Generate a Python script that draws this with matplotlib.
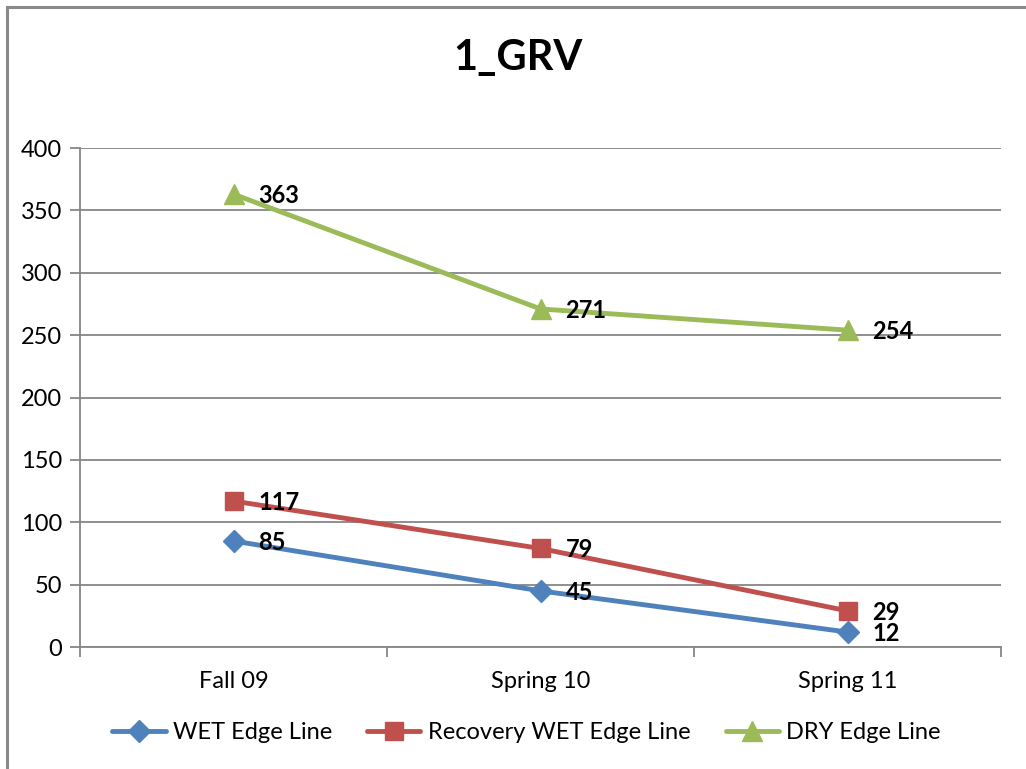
import matplotlib
matplotlib.use("Agg")
from matplotlib import pyplot as plt
from matplotlib.lines import Line2D

# Chart data
categories = ["Fall 09", "Spring 10", "Spring 11"]
wet_edge = [85, 45, 12]
recovery_wet_edge = [117, 79, 29]
dry_edge = [363, 271, 254]
series_names = ["WET Edge Line", "Recovery WET Edge Line", "DRY Edge Line"]
y_ticks = [0, 50, 100, 150, 200, 250, 300, 350, 400]

# Excel 2007 default palette
colors = ["#4F81BD", "#C0504D", "#9BBB59"]
markers = ["D", "s", "^"]
marker_sizes = [11, 13, 14]
grid_color = "#868686"

plt.rcParams["font.family"] = ["Lato", "DejaVu Sans"]

fig = plt.figure(figsize=(10.26, 7.69), dpi=100)
ax = fig.add_axes([0.078, 0.1586, 0.8977, 0.6489])

# Chart area border (only top and left visible in the reference)
fig.add_artist(Line2D([0.0068, 0.0068], [0, 0.991], color="#8a8a8a", lw=2.2,
                      transform=fig.transFigure))
fig.add_artist(Line2D([0.0068, 1.0], [0.991, 0.991], color="#8a8a8a", lw=2.2,
                      transform=fig.transFigure))

x = [0.5, 1.5, 2.5]
all_series = [wet_edge, recovery_wet_edge, dry_edge]
for vals, name, c, m, ms in zip(all_series, series_names, colors, markers, marker_sizes):
    ax.plot(x, vals, color=c, lw=3.5, marker=m, markersize=ms, label=name,
            solid_capstyle="round", zorder=3)
    for xi, v in zip(x, vals):
        ax.annotate(str(v), (xi, v), xytext=(18, -1), textcoords="offset points",
                    ha="left", va="center", fontsize=17, fontweight="bold", zorder=4)

ax.set_xlim(0, 3)
ax.set_ylim(0, 400)
ax.set_yticks(y_ticks)
ax.yaxis.grid(True, color=grid_color, lw=1.3)
ax.set_axisbelow(True)

# category labels centred between boundary ticks
ax.set_xticks([0, 1, 2, 3])
ax.set_xticklabels([])
ax.set_xticks(x, minor=True)
ax.set_xticklabels(categories, minor=True, fontsize=17)
ax.tick_params(axis="x", which="minor", length=0, pad=17)
ax.tick_params(axis="x", which="major", length=7, width=1.3, color=grid_color)
ax.tick_params(axis="y", length=7, width=1.3, color=grid_color, labelsize=17, pad=6)

for side in ["top", "right"]:
    ax.spines[side].set_visible(False)
ax.spines["left"].set_color(grid_color)
ax.spines["bottom"].set_color(grid_color)
ax.spines["left"].set_linewidth(1.3)
ax.spines["bottom"].set_linewidth(1.3)

fig.text(0.505, 0.925, "1_GRV", ha="center", va="center", fontsize=30, fontweight="bold")

fig.legend(loc="center", bbox_to_anchor=(0.513, 0.047), ncol=3, frameon=False,
           fontsize=17, handlelength=2.25, handletextpad=0.3, columnspacing=1.5)

plt.savefig("out.png", dpi=100)
